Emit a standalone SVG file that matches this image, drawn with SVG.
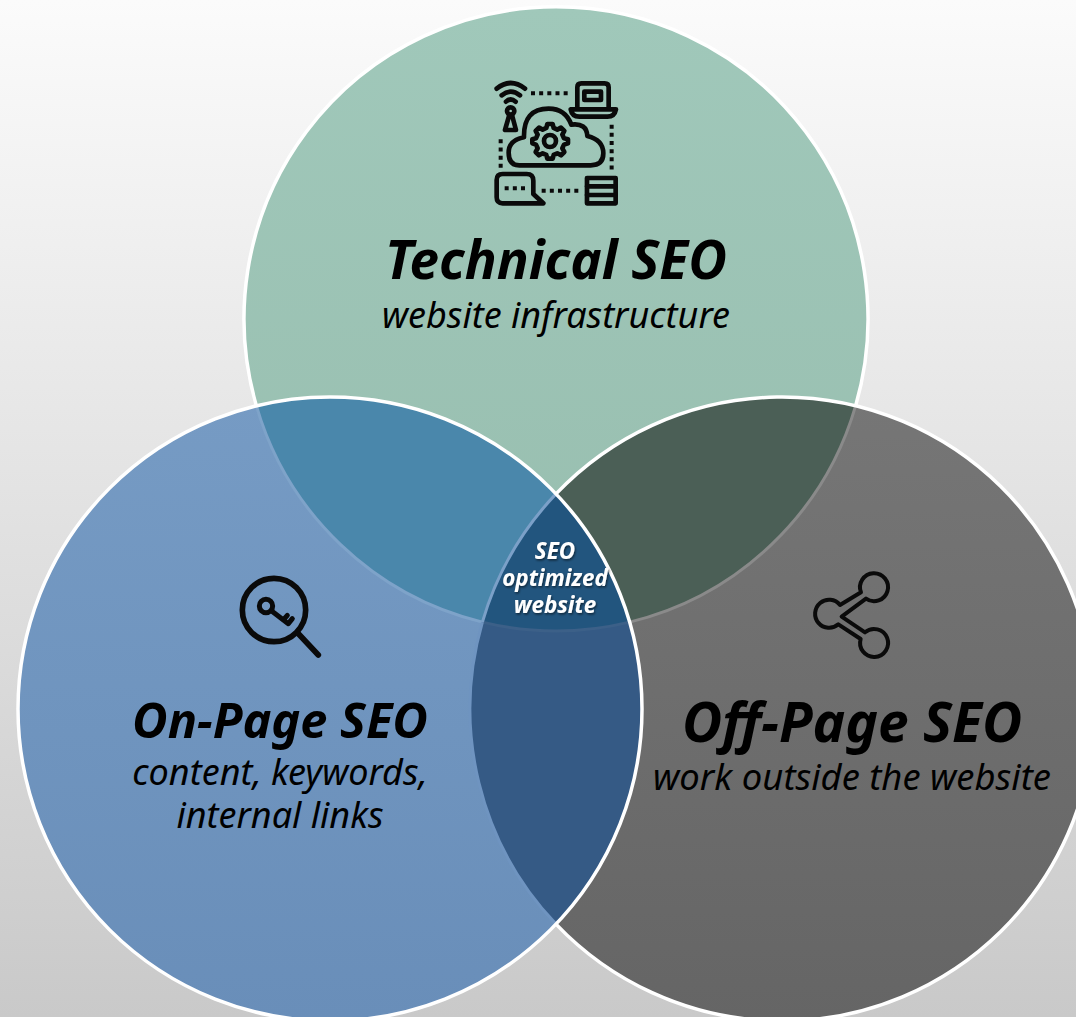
<svg xmlns="http://www.w3.org/2000/svg" width="1076" height="1017" viewBox="0 0 1076 1017">
<style>
text{font-family:"Noto Sans","Open Sans","Liberation Sans",sans-serif;font-style:italic;text-anchor:middle;fill:#000}
.h{font-weight:700}
.s{font-weight:400;font-size:36px}
.c{font-weight:700;font-size:22.4px;fill:#fff;filter:url(#sh)}
.i{fill:none;stroke:#0a0a0a;stroke-width:14;stroke-linejoin:round;stroke-linecap:round}
.d{fill:none;stroke:#0a0a0a;stroke-width:12;stroke-dasharray:12 12.5}
.w{fill:none;stroke:#fff;stroke-width:3.5}
.f{fill:none;stroke-width:3}
</style>
<defs>
<linearGradient id="bg" x1="0" y1="0" x2="0" y2="1"><stop offset="0" stop-color="#fbfbfb"/><stop offset="1" stop-color="#c9c9c9"/></linearGradient>
<linearGradient id="gT" x1="0" y1="0" x2="0" y2="1"><stop offset="0" stop-color="#a0c8ba"/><stop offset="1" stop-color="#98beaf"/></linearGradient>
<linearGradient id="gL" x1="0" y1="0" x2="0" y2="1"><stop offset="0" stop-color="#769bc4"/><stop offset="1" stop-color="#698eb9"/></linearGradient>
<linearGradient id="gR" x1="0" y1="0" x2="0" y2="1"><stop offset="0" stop-color="#767676"/><stop offset="1" stop-color="#656565"/></linearGradient>
<clipPath id="cL"><circle cx="330" cy="709" r="312"/></clipPath>
<clipPath id="cR"><circle cx="782" cy="709" r="312"/></clipPath>
<filter id="sh" x="-20%" y="-30%" width="140%" height="170%"><feDropShadow dx="1" dy="1.5" stdDeviation="1.2" flood-color="#000" flood-opacity=".55"/></filter>
</defs>
<rect id="background" width="1076" height="1017" fill="url(#bg)"/>
<g id="venn-fills">
<circle cx="556" cy="319" r="312" fill="url(#gT)"/>
<circle cx="782" cy="709" r="312" fill="url(#gR)"/>
<circle cx="330" cy="709" r="312" fill="url(#gL)"/>
<circle cx="556" cy="319" r="312" fill="#4a87ab" clip-path="url(#cL)"/>
<circle cx="556" cy="319" r="312" fill="#4b5f56" clip-path="url(#cR)"/>
<circle cx="330" cy="709" r="312" fill="#355a85" clip-path="url(#cR)"/>
<g clip-path="url(#cL)"><circle cx="556" cy="319" r="312" fill="#22557e" clip-path="url(#cR)"/></g>
</g>
<g id="venn-outlines">
<path class="f" stroke="#7ea3c9" d="M256.4 405.9A312 312 0 0 0 482.4 622.1"/>
<path class="f" stroke="#3c6088" d="M482.4 622.1A312 312 0 0 0 629.6 622.1"/>
<path class="f" stroke="#8a8a8a" d="M629.6 622.1A312 312 0 0 0 855.6 405.9"/>
<path class="w" d="M256.4 405.9A312 312 0 1 1 855.6 405.9"/>
<path class="f" stroke="#7ba0c8" d="M556 493.9A312 312 0 0 0 482.4 622.1"/>
<path class="f" stroke="#6f94c0" d="M482.4 622.1A312 312 0 0 0 556 924.1"/>
<path class="w" d="M556 493.9A312 312 0 1 1 556 924.1"/>
<circle class="w" cx="330" cy="709" r="312"/>
</g>
<g id="technical-seo">
<g transform="translate(470 60) scale(.3333)">
<path class="i" d="M80 86Q122 52 165 86M95 106Q122 84 150 106M108 125Q122 112 137 125"/>
<circle class="i" cx="122" cy="153" r="11"/>
<path class="i" d="M105 210H138L126 165H118Z"/>
<path class="d" d="M183 100H300M425 194V332M92 238V326M215 392H330"/>
<path class="i" d="M322 142V82Q322 70 334 70H404Q416 70 416 82V142"/>
<rect class="i" x="343" y="95" width="50" height="25"/>
<path class="i" d="M302 148H438Q434 170 412 170H328Q306 170 302 148Z"/>
<path class="i" d="M148 316Q116 316 116 278Q116 240 162 232Q160 146 236 146Q286 146 304 194Q350 188 352 228Q400 240 400 280Q400 316 362 316Z"/>
<path class="i" d="M232 192H248L251 204L262 209L273 203L283 213L277 224L282 235L294 238V250L282 254L277 265L283 276L273 286L262 280L251 285L248 296H232L229 285L218 280L207 286L197 276L203 265L198 254L187 250V238L198 235L203 224L197 213L207 203L218 209L229 204Z"/>
<circle class="i" cx="240" cy="243" r="18"/>
<path class="i" d="M80 360Q80 342 98 342H170Q190 342 190 362V402L220 430H98Q80 430 80 412Z"/>
<path class="d" d="M104 385H168"/>
<rect class="i" x="351" y="354" width="86" height="76"/>
<path class="i" d="M351 379H437M351 405H437"/>
</g>
<text class="h" x="556" y="279" font-size="53">Technical SEO</text>
<text class="s" x="556" y="327.500">website infrastructure</text>
</g>
<g id="on-page-seo">
<g transform="translate(220 560) scale(.3333)">
<circle class="i" cx="162" cy="150" r="95" style="stroke-width:17"/>
<path class="i" d="M236 222L295 285" style="stroke-width:17"/>
<circle class="i" cx="138" cy="138" r="20" style="stroke-width:15"/>
<path class="i" d="M156 154L205 191L217 176M190 180L202 166" style="stroke-width:15"/>
</g>
<text class="h" x="280" y="738" font-size="48.7">On-Page SEO</text>
<text class="s" x="280" y="785">content, keywords,</text>
<text class="s" x="280" y="828">internal links</text>
</g>
<g id="off-page-seo">
<g transform="translate(790 555) scale(.3333)">
<path class="i" style="stroke-width:12" d="M150 150L213 112A42 42 0 1 1 228 131L155 185L225 232A42 42 0 1 1 212 252L145 208A42 42 0 1 1 150 150Z"/>
</g>
<text class="h" x="852" y="742" font-size="55">Off-Page SEO</text>
<text class="s" x="852" y="789.500" style="font-size:36.4px">work outside the website</text>
</g>
<g id="seo-optimized-website">
<text class="c" x="555" y="559">SEO</text>
<text class="c" x="555" y="586">optimized</text>
<text class="c" x="555" y="613">website</text>
</g>
</svg>
